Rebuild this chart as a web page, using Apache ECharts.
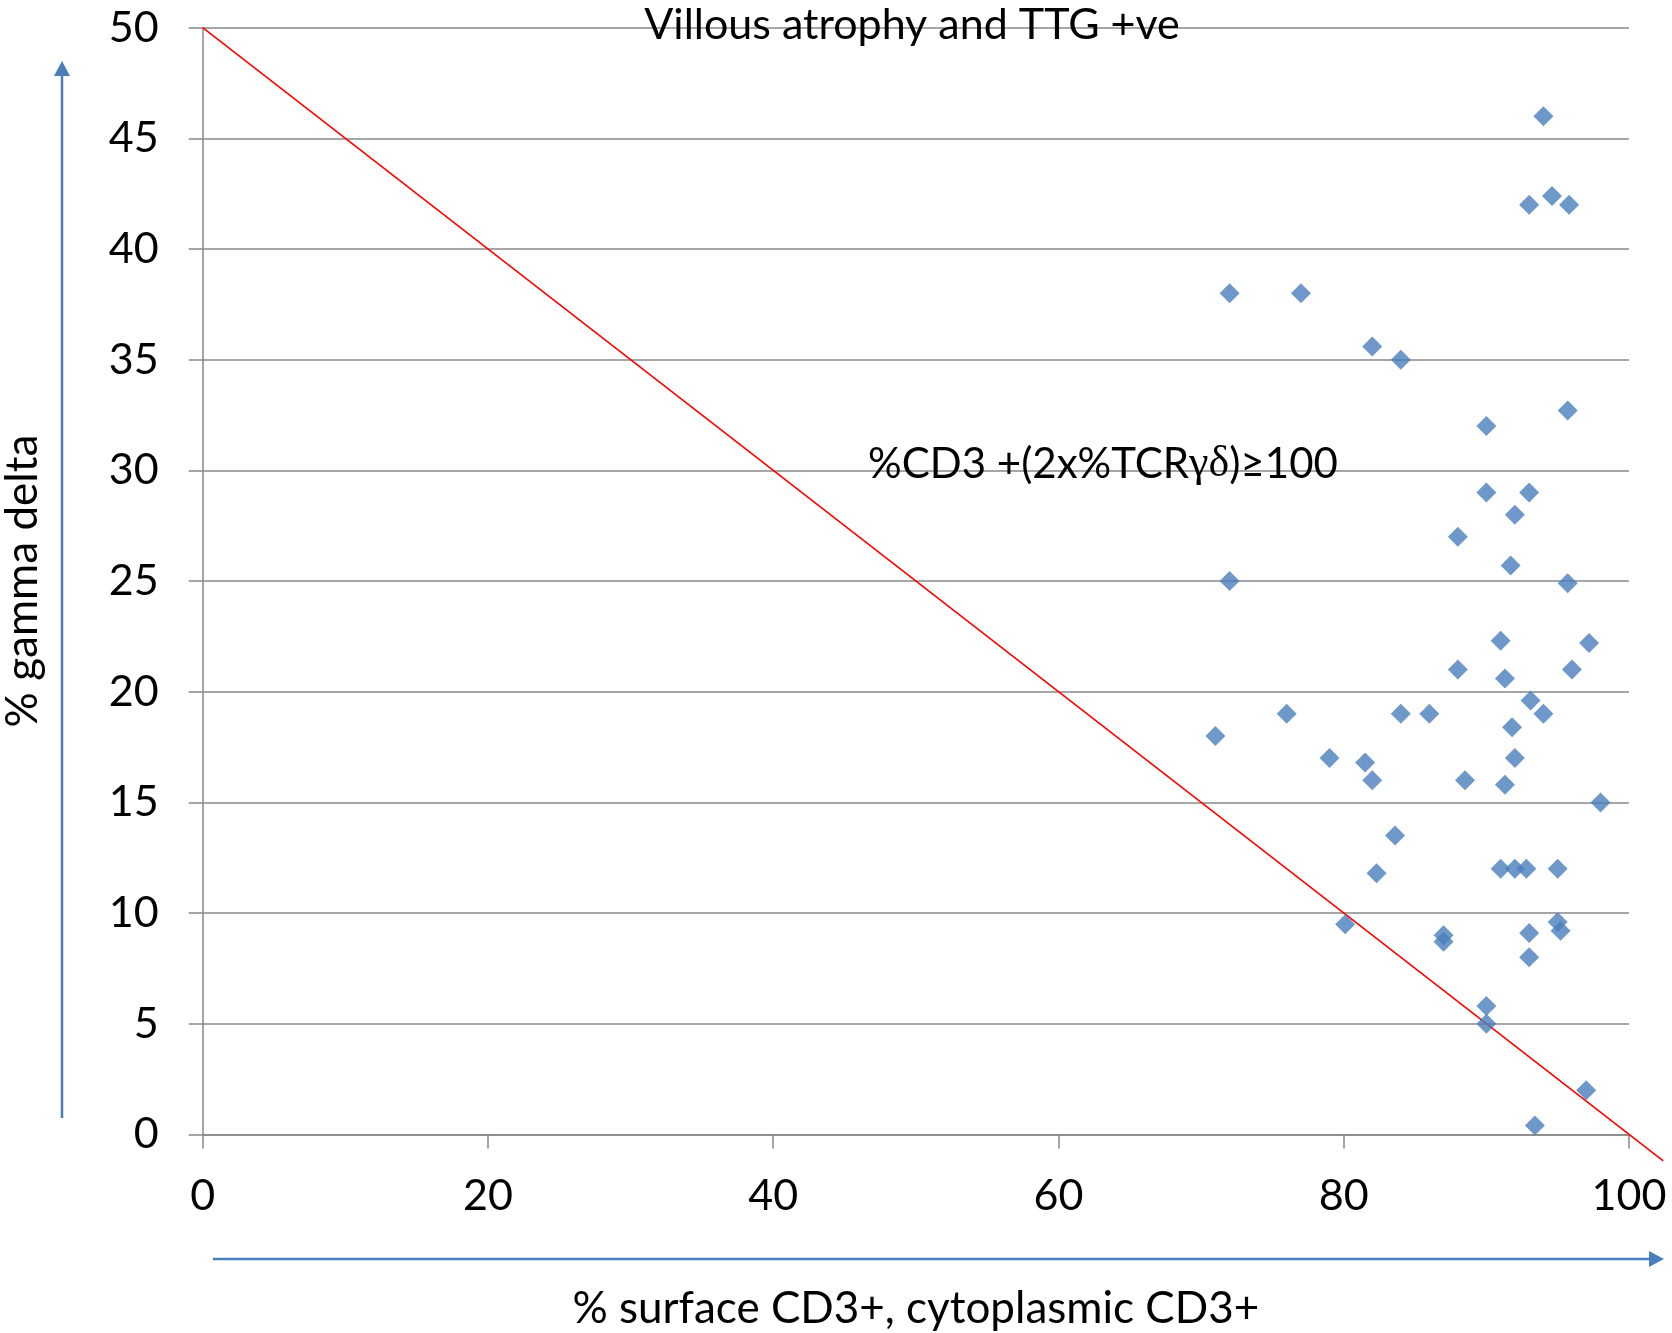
<!DOCTYPE html>
<html>
<head>
<meta charset="utf-8">
<script src="https://cdn.jsdelivr.net/npm/echarts@6/dist/echarts.min.js"></script>
<style>html,body{margin:0;padding:0;background:#fff}#c{width:1672px;height:1333px}</style>
</head>
<body>
<div id="c"></div>
<script>
// % surface CD3+, cytoplasmic CD3+
const xValues = [94,93,94.6,95.8,72,77,82,84,95.7,90,90,93,92,88,91.7,72,95.7,91,97.2,88,96,91.3,93.1,76,84,86,94,91.8,71,79,81.5,92,82,88.5,91.3,98,83.6,82.3,91,92,92.8,95,80.1,87,87,93,95,95.2,93,90,90,97,93.4];
// % gamma delta
const yValues = [46,42,42.4,42,38,38,35.6,35,32.7,32,29,29,28,27,25.7,25,24.9,22.3,22.2,21,21,20.6,19.6,19,19,19,19,18.4,18,17,16.8,17,16,16,15.8,15,13.5,11.8,12,12,12,12,9.5,9.0,8.7,9.1,9.6,9.2,8,5.8,5,2,0.4];
// threshold line %CD3 + 2 x %TCRgd = 100 (extends slightly past the axis end)
const lineX = [0, 102.4];
const lineY = [50, -1.2];
const xTicks = [0,20,40,60,80,100];
const yTicks = [0,5,10,15,20,25,30,35,40,45,50];
const titleText = 'Villous atrophy and TTG +ve';
const xName = '% surface CD3+, cytoplasmic CD3+';
const yName = '% gamma delta';

const FONT = 'Lato';
const BLUE = '#4A7EBB';
const chart = echarts.init(document.getElementById('c'), null, {renderer:'canvas'});
const pts = xValues.map((x,i)=>[x, yValues[i]]);

const decor = [
  {type:'text', style:{x:912, y:25, text:titleText, fontFamily:FONT, fontSize:43, fill:'#000', align:'center', verticalAlign:'middle'}, z:10},
  {type:'text', style:{x:868, y:464, text:'%CD3 +(2x%TCR{g|γδ})≥100', fontFamily:FONT, fontSize:42, fill:'#000', align:'left', verticalAlign:'middle',
    rich:{g:{fontFamily:'Liberation Serif', fontSize:44, fill:'#000'}}}, z:10},
  {type:'line', shape:{x1:62, y1:1118, x2:62, y2:74}, style:{stroke:BLUE, lineWidth:2.5}},
  {type:'polygon', shape:{points:[[62,61],[54,76],[70,76]]}, style:{fill:BLUE}},
  {type:'line', shape:{x1:213, y1:1259, x2:1650, y2:1259}, style:{stroke:BLUE, lineWidth:2.5}},
  {type:'polygon', shape:{points:[[1664,1259],[1649,1251],[1649,1267]]}, style:{fill:BLUE}}
];

chart.setOption({
  animation:false,
  backgroundColor:'#fff',
  grid:{left:202.7, right:43, top:27.7, bottom:198.6, containLabel:false, outerBoundsMode:'none'},
  xAxis:{
    type:'value', min:0, max:100, interval:20,
    name:xName, nameLocation:'middle', nameGap:152,
    nameTextStyle:{fontFamily:FONT, fontSize:44, color:'#000'},
    axisLine:{show:true, onZero:false, lineStyle:{color:'#888', width:1.5}},
    axisTick:{show:true, length:14, lineStyle:{color:'#888', width:1.5}},
    axisLabel:{fontFamily:FONT, fontSize:43, color:'#000', margin:40,
      formatter:v=> xTicks.includes(v) ? String(v) : ''},
    splitLine:{show:false}
  },
  yAxis:{
    type:'value', min:0, max:50, interval:5,
    name:yName, nameLocation:'middle', nameGap:158,
    nameTextStyle:{fontFamily:FONT, fontSize:44, color:'#000'},
    axisLine:{show:true, onZero:false, lineStyle:{color:'#888', width:1.5}},
    axisTick:{show:true, length:14, lineStyle:{color:'#888', width:1.5}},
    axisLabel:{fontFamily:FONT, fontSize:43, color:'#000', margin:44,
      formatter:v=> yTicks.includes(v) ? String(v) : ''},
    splitLine:{show:true, lineStyle:{color:'#888', width:1.5}}
  },
  series:[
    {type:'scatter', data:pts, symbol:'diamond', symbolSize:20,
     itemStyle:{color:BLUE}, z:4}
  ],
  graphic:decor
});

// threshold line drawn through the chart's own scales (it runs past the axis end)
const linePix = lineX.map((x,i)=>chart.convertToPixel({gridIndex:0}, [x, lineY[i]]));
chart.setOption({
  graphic: decor.concat([
    {type:'polyline', shape:{points:linePix}, style:{stroke:'#FF0000', lineWidth:1.6, fill:null}, z:3}
  ])
});
</script>
</body>
</html>
